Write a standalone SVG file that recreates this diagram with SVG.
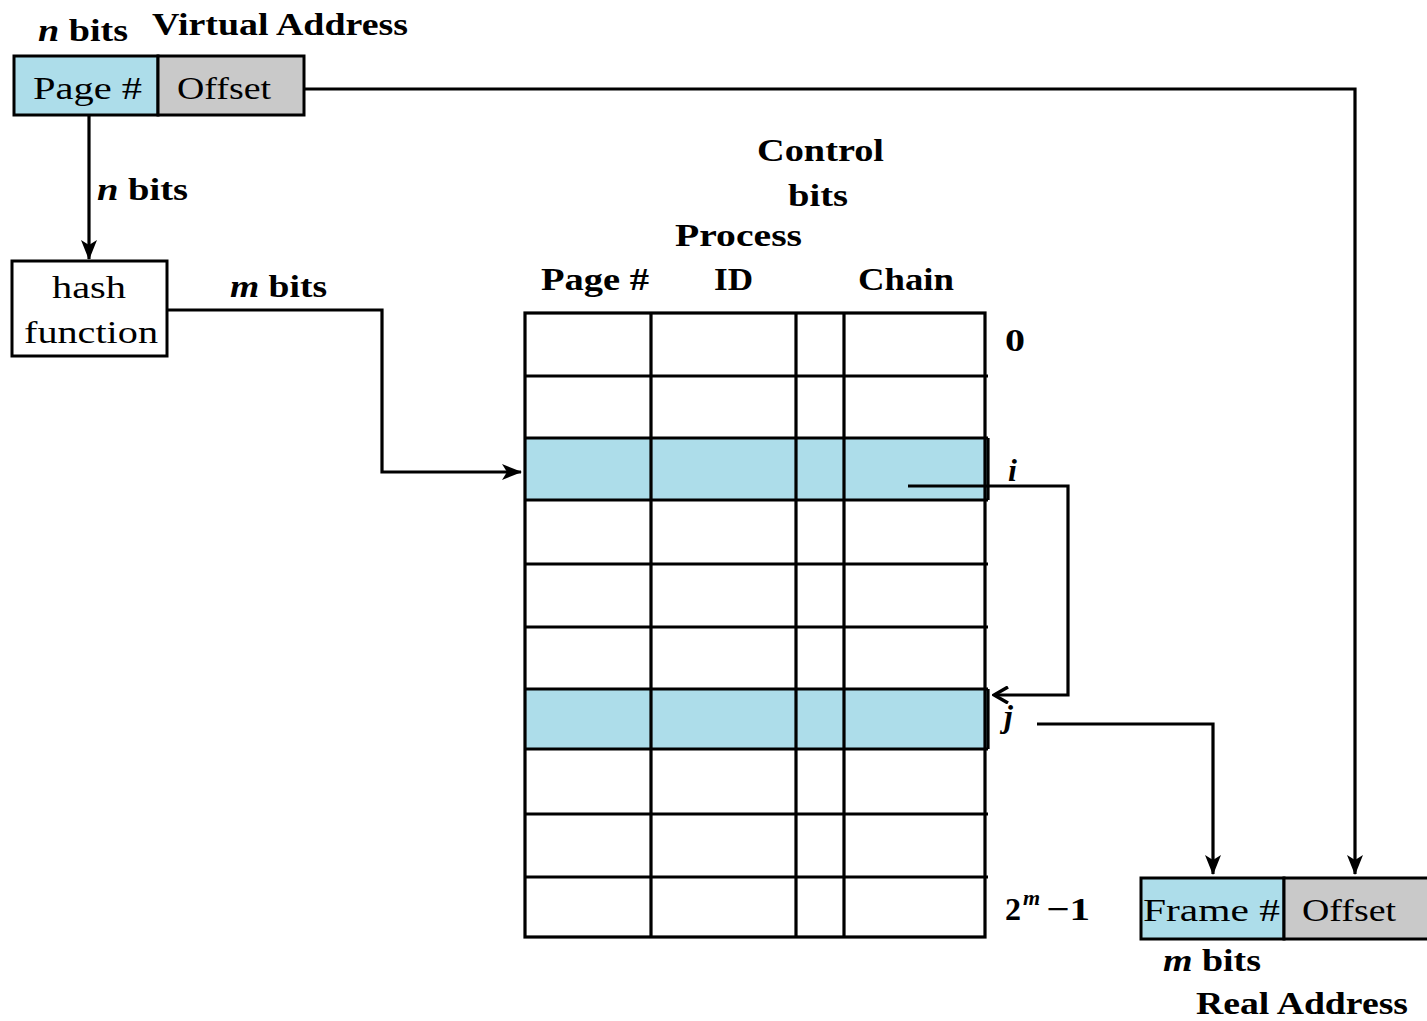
<svg xmlns="http://www.w3.org/2000/svg" width="1427" height="1021" viewBox="0 0 1427 1021">
  <style>
    .box { stroke: #000; stroke-width: 3; }
    .blue { fill: #ADDDEA; }
    .grey { fill: #C9C9C9; }
    .white { fill: #fff; }
    .grid { stroke: #000; stroke-width: 3.2; fill: none; }
    .wire { stroke: #000; stroke-width: 3.2; fill: none; }
    .lbl { font-family: "Liberation Serif", "Times New Roman", serif; font-weight: bold; font-size: 32px; fill: #000; }
    .txt { font-family: "Liberation Serif", "Times New Roman", serif; font-size: 32px; fill: #000; }
    .it { font-style: italic; }
  </style>
  <defs>
    <marker id="arrow" viewBox="0 0 20 16" refX="19" refY="8" markerWidth="20" markerHeight="16" markerUnits="userSpaceOnUse" orient="auto">
      <path d="M0,0 L20,8 L0,16 L5,8 Z" fill="#000"/>
    </marker>
    <marker id="openArrow" viewBox="0 0 18 18" refX="16" refY="9" markerWidth="18" markerHeight="18" markerUnits="userSpaceOnUse" orient="auto">
      <path d="M2,1 L16,9 L2,17" fill="none" stroke="#000" stroke-width="3.5"/>
    </marker>
  </defs>

  <rect width="1427" height="1021" fill="#fff"/>

  <!-- virtual address -->
  <g id="virtual-address">
    <text class="lbl" x="38" y="41" textLength="90" lengthAdjust="spacingAndGlyphs"><tspan class="it">n</tspan> bits</text>
    <text class="lbl" x="152" y="35" textLength="256" lengthAdjust="spacingAndGlyphs">Virtual Address</text>
    <rect class="box blue" x="14" y="56" width="144" height="59"/>
    <rect class="box grey" x="158" y="56" width="146" height="59"/>
    <text class="txt" x="33" y="99" textLength="109" lengthAdjust="spacingAndGlyphs">Page #</text>
    <text class="txt" x="177" y="99" textLength="94" lengthAdjust="spacingAndGlyphs">Offset</text>
  </g>

  <!-- hash function -->
  <g id="hash-function">
    <rect class="box white" x="12" y="261" width="155" height="95"/>
    <text class="txt" x="89" y="298" text-anchor="middle" textLength="74" lengthAdjust="spacingAndGlyphs">hash</text>
    <text class="txt" x="91" y="343" text-anchor="middle" textLength="134" lengthAdjust="spacingAndGlyphs">function</text>
  </g>

  <!-- inverted page table -->
  <g id="page-table">
    <text class="lbl" x="757" y="161" textLength="127" lengthAdjust="spacingAndGlyphs">Control</text>
    <text class="lbl" x="788" y="206" textLength="60" lengthAdjust="spacingAndGlyphs">bits</text>
    <text class="lbl" x="675" y="246" textLength="127" lengthAdjust="spacingAndGlyphs">Process</text>
    <text class="lbl" x="541" y="290" textLength="108" lengthAdjust="spacingAndGlyphs">Page #</text>
    <text class="lbl" x="714" y="290" textLength="39" lengthAdjust="spacingAndGlyphs">ID</text>
    <text class="lbl" x="858" y="290" textLength="96" lengthAdjust="spacingAndGlyphs">Chain</text>

    <rect class="blue" x="525" y="438" width="463" height="62"/>
    <rect class="blue" x="525" y="689" width="463" height="60"/>

    <rect class="grid" x="525" y="313" width="460" height="624"/>
    <path class="grid" d="M651,313 V937 M796,313 V937 M844,313 V937
      M525,376 H988 M525,438 H988 M525,500 H988 M525,564 H988 M525,627 H988
      M525,689 H988 M525,749 H988 M525,814 H988 M525,877 H988"/>
    <path class="grid" d="M988,438 V500 M988,689 V749"/>

    <text class="lbl" x="1005" y="351" textLength="20" lengthAdjust="spacingAndGlyphs">0</text>
    <text class="lbl it" x="1008" y="481">i</text>
    <text class="lbl it" x="1004" y="727">j</text>
    <text class="lbl" x="1005" y="920">2<tspan class="it" font-size="22" x="1023" y="905">m</tspan><tspan x="1046" y="920" textLength="44" lengthAdjust="spacingAndGlyphs">−1</tspan></text>
  </g>

  <!-- real address -->
  <g id="real-address">
    <rect class="box blue" x="1141" y="878" width="143" height="61"/>
    <rect class="box grey" x="1284" y="878" width="150" height="61"/>
    <text class="txt" x="1143" y="921" textLength="137" lengthAdjust="spacingAndGlyphs">Frame #</text>
    <text class="txt" x="1302" y="921" textLength="94" lengthAdjust="spacingAndGlyphs">Offset</text>
    <text class="lbl" x="1163" y="971" textLength="98" lengthAdjust="spacingAndGlyphs"><tspan class="it">m</tspan> bits</text>
    <text class="lbl" x="1196" y="1014" textLength="212" lengthAdjust="spacingAndGlyphs">Real Address</text>
  </g>

  <!-- connectors -->
  <g id="connectors">
    <path class="wire" d="M89,115 V259" marker-end="url(#arrow)"/>
    <text class="lbl" x="97" y="200" textLength="91" lengthAdjust="spacingAndGlyphs"><tspan class="it">n</tspan> bits</text>

    <path class="wire" d="M167,310 H382 V472 H521" marker-end="url(#arrow)"/>
    <text class="lbl" x="230" y="297" textLength="97" lengthAdjust="spacingAndGlyphs"><tspan class="it">m</tspan> bits</text>

    <path class="wire" d="M304,89 H1355 V874" marker-end="url(#arrow)"/>

    <path class="wire" d="M908,486 H1068 V695 H994" marker-end="url(#openArrow)"/>

    <path class="wire" d="M1037,724 H1213 V874" marker-end="url(#arrow)"/>
  </g>
</svg>
